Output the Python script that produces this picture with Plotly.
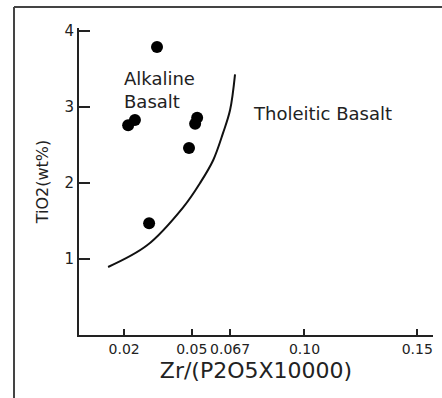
import plotly.graph_objects as go

# Sample data (Zr/(P2O5x10000), TiO2 wt%)
sample_x = [0.0346, 0.0218, 0.0248, 0.0515, 0.0524, 0.0488, 0.0311]
sample_y = [3.79, 2.76, 2.83, 2.78, 2.86, 2.46, 1.47]

# Discriminant boundary line
line_x = [0.0129, 0.0302, 0.0462, 0.0537, 0.0595, 0.0639, 0.0670, 0.0692]
line_y = [0.895, 1.18, 1.68, 2.00, 2.30, 2.66, 2.96, 3.43]

x_tickvals = [0.02, 0.05, 0.067, 0.10, 0.15]
x_ticktext = ["0.02", "0.05", "0.067", "0.10", "0.15"]
y_tickvals = [1, 2, 3, 4]

FONT = "DejaVu Sans"
TXT = "#222222"

fig = go.Figure()
fig.add_trace(go.Scatter(x=line_x, y=line_y, mode="lines",
                         line=dict(color="#111111", width=2, shape="spline"),
                         hoverinfo="skip", showlegend=False))
fig.add_trace(go.Scatter(x=sample_x, y=sample_y, mode="markers",
                         marker=dict(color="black", size=12, symbol="circle"),
                         showlegend=False))

fig.add_annotation(x=0.0192, y=3.22, xref="x", yref="y", text="Alkaline<br>Basalt",
                   showarrow=False, xanchor="left", yanchor="middle", align="left",
                   font=dict(family=FONT, size=18, color=TXT))
fig.add_annotation(x=0.0765, y=2.91, xref="x", yref="y", text="Tholeitic Basalt",
                   showarrow=False, xanchor="left", yanchor="middle",
                   font=dict(family=FONT, size=18, color=TXT))

# outer frame (top and left edges only; others run off the image)
fig.add_shape(type="line", xref="paper", yref="paper", x0=-0.1836, x1=1.3,
              y0=1.0684, y1=1.0684, line=dict(color="#444444", width=2))
fig.add_shape(type="line", xref="paper", yref="paper", x0=-0.1836, x1=-0.1836,
              y0=-0.4, y1=1.0684, line=dict(color="#444444", width=2))

fig.update_layout(
    width=442, height=398,
    margin=dict(l=79, r=9, t=28, b=63),
    paper_bgcolor="white", plot_bgcolor="white",
    font=dict(family=FONT, color=TXT),
    xaxis=dict(range=[0, 0.157], tickvals=x_tickvals, ticktext=x_ticktext,
               showgrid=False, zeroline=False, showline=True, linecolor="#222222",
               linewidth=2, ticks="inside", ticklen=6, tickwidth=2, tickcolor="#222222",
               tickfont=dict(family=FONT, size=14, color=TXT),
               title=dict(text="Zr/(P2O5X10000)", font=dict(family=FONT, size=22, color=TXT),
                          standoff=7)),
    yaxis=dict(range=[0, 4.04], tickvals=y_tickvals,
               showgrid=False, zeroline=False, showline=True, linecolor="#222222",
               linewidth=2, ticks="inside", ticklen=11, tickwidth=2, tickcolor="#222222",
               tickfont=dict(family=FONT, size=15, color=TXT),
               title=dict(text="TiO2(wt%)", font=dict(family=FONT, size=16, color=TXT),
                          standoff=12)),
)

fig.write_html("out.html")
